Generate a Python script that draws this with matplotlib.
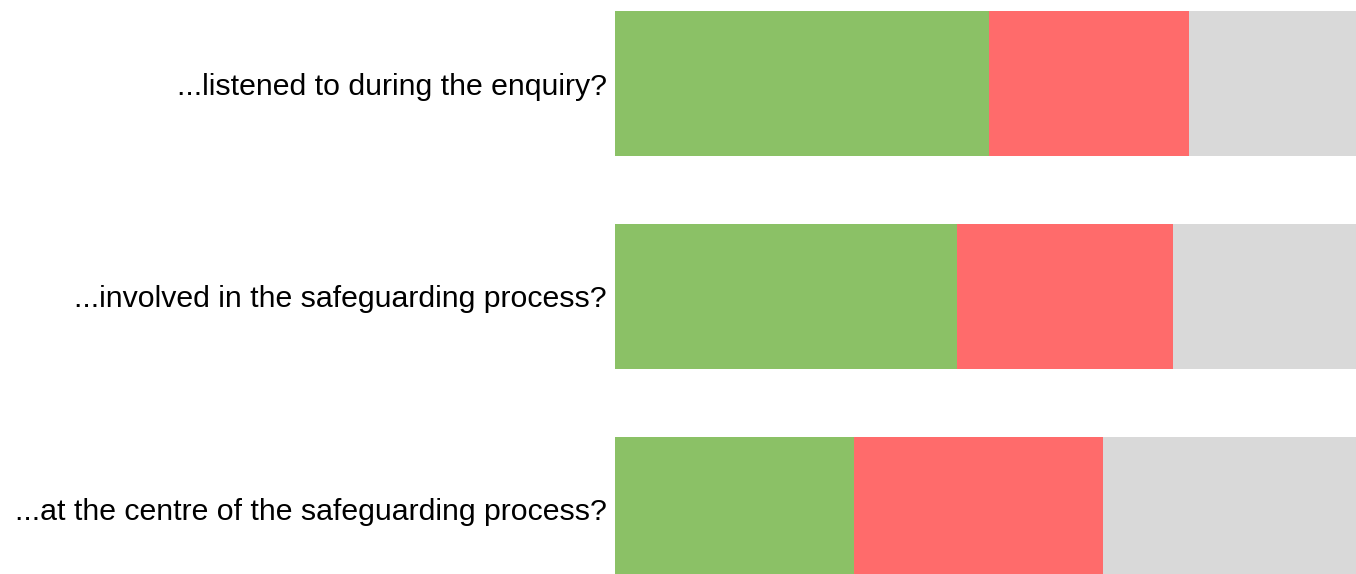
import matplotlib
matplotlib.use("Agg")
import matplotlib.pyplot as plt

# -------------------------------------------------
# Data (percent of responses)
# -------------------------------------------------
questions = [
    "...listened to during the enquiry?",
    "...involved in the safeguarding process?",
    "...at the centre of the safeguarding process?",
]
yes_vals = [50.5, 46.2, 32.3]
no_vals = [27.0, 29.1, 33.5]
other_vals = [22.5, 24.7, 34.2]

colors = ["#8BC166", "#FF6B6B", "#D9D9D9"]

plt.rcParams["font.family"] = ["Liberation Sans", "DejaVu Sans"]

fig = plt.figure(figsize=(13.56, 5.74), dpi=100)
ax = fig.add_axes([615 / 1356, 0, 1 - 615 / 1356, 1])

pos = list(range(len(questions)))
left = [0] * len(questions)
for vals, c in zip([yes_vals, no_vals, other_vals], colors):
    ax.barh(pos, vals, left=left, height=0.68, color=c, edgecolor="none")
    left = [l + v for l, v in zip(left, vals)]

ax.set_xlim(0, 100)
ax.set_ylim(2.3044, -0.3937)
ax.set_yticks(pos)
ax.set_yticklabels(questions, fontsize=21.8)
ax.tick_params(axis="y", length=0, pad=6)
ax.set_xticks([])
for s in ax.spines.values():
    s.set_visible(False)

fig.savefig("out.png", dpi=100)
